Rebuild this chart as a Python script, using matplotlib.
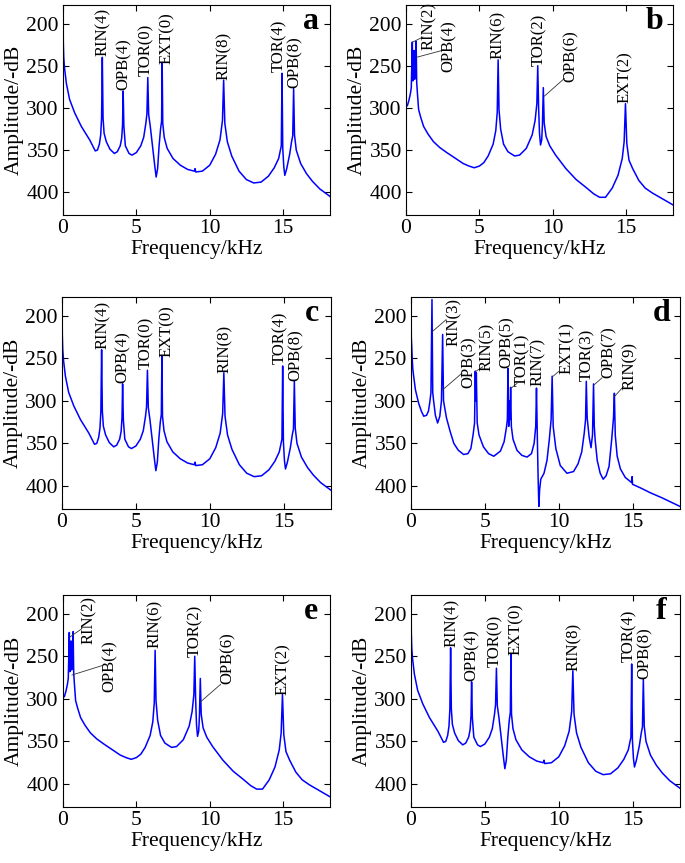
import matplotlib.pyplot as plt

plt.rcParams['font.family'] = ['Liberation Serif', 'DejaVu Serif']

# spectrum shown in panels a, c and f (frequency kHz, amplitude -dB)
freq_a = [0.0, 0.02, 0.05, 0.1, 0.23, 0.45, 0.8, 1.25, 1.82, 2.2, 2.35, 2.48, 2.57, 2.63, 2.68,
          2.73, 2.8, 2.95, 3.2, 3.5, 3.7, 3.9, 4.0, 4.06, 4.1, 4.15, 4.25, 4.5, 4.7, 5.0, 5.3,
          5.5, 5.65, 5.72, 5.78, 5.84, 5.95, 6.1, 6.25, 6.35, 6.45, 6.55, 6.65, 6.72, 6.76, 6.8,
          6.9, 7.1, 7.5, 8.0, 8.5, 8.95, 9.0, 9.05, 9.5, 10.0, 10.4, 10.7, 10.87, 10.95, 11.03,
          11.2, 11.5, 12.0, 12.5, 13.0, 13.5, 14.0, 14.4, 14.7, 14.82, 14.88, 14.93, 14.98, 15.05,
          15.12, 15.25, 15.45, 15.58, 15.66, 15.72, 15.78, 15.9, 16.2, 16.6, 17.0, 17.5, 18.2]
amp_a = [170, 222, 240, 252, 271, 290, 306, 322, 338, 351, 350, 343, 332, 312, 240,
         312, 330, 340, 349, 354, 352, 345, 336, 320, 280, 322, 345, 354, 356, 353, 345,
         335, 318, 307, 264, 308, 322, 345, 368, 382, 372, 345, 325, 316, 247, 318,
         335, 348, 360, 368, 373, 375, 372, 376, 375, 368, 355, 338, 315, 267, 318,
         340, 357, 375, 385, 389, 388, 381, 371, 360, 350, 345, 259, 348, 370,
         380, 372, 355, 340, 333, 277, 332, 350, 366, 378, 387, 396, 405]

# spectrum shown in panels b and e
freq_b = [0.0, 0.1, 0.2, 0.3, 0.36, 0.43, 0.47, 0.51, 0.55, 0.59, 0.63, 0.69, 0.73, 0.78, 0.86,
          1.0, 1.2, 1.5, 1.87, 2.3, 2.78, 3.3, 3.9, 4.3, 4.65, 5.0, 5.3, 5.6, 5.94, 6.12, 6.22,
          6.28, 6.34, 6.45, 6.65, 6.95, 7.4, 7.74, 8.2, 8.6, 8.8, 8.92, 8.98, 9.04, 9.1, 9.17,
          9.25, 9.3, 9.36, 9.42, 9.55, 9.8, 10.2, 10.9, 11.6, 12.25, 12.8, 13.2, 13.6, 14.06,
          14.45, 14.74, 14.87, 14.96, 15.05, 15.2, 15.45, 15.87, 16.3, 16.8, 17.5, 18.2]
amp_b = [299, 297, 291, 283, 276, 222, 268, 258, 232, 266, 254, 221, 270, 283, 302,
         311, 322, 331, 340, 347, 353, 359, 366, 369, 371, 369, 365, 357, 343, 327, 305,
         243, 302, 325, 343, 352, 357, 356, 348, 332, 315, 295, 250, 300, 330, 344,
         338, 320, 276, 318, 334, 345, 356, 372, 385, 394, 402, 406, 406, 395,
         380, 360, 340, 295, 342, 362, 372, 386, 395, 401, 408, 415]

# spectrum shown in panel d
freq_d = [0.0, 0.02, 0.05, 0.08, 0.12, 0.18, 0.3, 0.52, 0.7, 0.86, 1.05, 1.18, 1.27, 1.35, 1.42,
          1.47, 1.53, 1.65, 1.8, 1.95, 2.06, 2.14, 2.2, 2.4, 2.65, 2.9, 3.2, 3.56, 3.85, 4.05,
          4.2, 4.3, 4.35, 4.38, 4.42, 4.48, 4.6, 4.9, 5.25, 5.6, 6.05, 6.3, 6.45, 6.52, 6.56,
          6.61, 6.66, 6.7, 6.74, 6.79, 6.9, 7.17, 7.5, 7.85, 8.15, 8.33, 8.44, 8.49, 8.55, 8.6,
          8.65, 8.7, 8.78, 9.0, 9.2, 9.36, 9.48, 9.55, 9.62, 9.8, 10.1, 10.55, 11.0, 11.3, 11.55,
          11.72, 11.81, 11.86, 11.92, 12.05, 12.18, 12.28, 12.35, 12.4, 12.46, 12.6, 12.8, 13.0,
          13.2, 13.4, 13.58, 13.7, 13.76, 13.82, 13.95, 14.17, 14.5, 14.93, 14.96, 14.99, 15.5,
          16.2, 17.0, 18.2]
amp_d = [170, 225, 236, 250, 262, 271, 287, 303, 312, 318, 317, 312, 302, 290, 181,
         290, 300, 317, 326, 318, 300, 222, 300, 320, 336, 350, 358, 363, 362, 356,
         340, 326, 265, 300, 267, 326, 340, 354, 362, 365, 359, 348, 332, 322, 262,
         330, 300, 322, 284, 330, 345, 358, 364, 366, 362, 350, 330, 285, 345, 390,
         424, 405, 392, 385, 370, 345, 322, 271, 330, 356, 376, 385, 383, 374, 360,
         338, 322, 277, 320, 342, 355, 340, 280, 330, 346, 370, 385, 392,
         388, 377, 345, 320, 291, 340, 365, 380, 390, 396, 389, 398, 402,
         408, 414, 424]

# peak labels: text, x centre, y where text starts
labels_a = ['RIN(4)', 'OPB(4)', 'TOR(0)', 'EXT(0)', 'RIN(8)', 'TOR(4)', 'OPB(8)']
lab_x_a = [2.75, 4.14, 5.66, 7.08, 11.0, 14.75, 15.8]
lab_y_a = [239, 279, 262, 248, 267, 257, 277]
leaders_a = []

labels_b = ['RIN(2)', 'OPB(4)', 'RIN(6)', 'TOR(2)', 'OPB(6)', 'EXT(2)']
lab_x_b = [1.53, 2.89, 6.28, 9.06, 11.25, 14.93]
lab_y_b = [231, 258, 242, 250, 269, 294]
leaders_b = [(0.45, 222, 1.15, 216), (0.72, 240, 2.55, 231.5), (9.44, 286, 10.8, 265)]

labels_e = labels_b
lab_x_e = [1.74, 3.22, 6.28, 9.0, 11.2, 15.0]
lab_y_e = [236, 292, 240, 251, 283, 296]
leaders_e = [(0.5, 227, 1.29, 217.5), (0.61, 272, 2.65, 261), (9.34, 304, 10.74, 283)]

labels_d = ['RIN(3)', 'OPB(3)', 'RIN(5)', 'OPB(5)', 'TOR(1)', 'RIN(7)', 'EXT(1)', 'TOR(3)',
            'OPB(7)', 'RIN(9)']
lab_x_d = [2.88, 3.9, 5.14, 6.5, 7.5, 8.6, 10.55, 11.9, 13.37, 14.8]
lab_y_d = [236, 285, 265, 261, 283, 283, 269, 277, 273, 287]
leaders_d = [(1.45, 218.5, 2.37, 204.7), (2.14, 287, 3.45, 267.5), (4.37, 265.5, 4.85, 260),
             (6.78, 285, 7.17, 279.5), (9.55, 272, 9.99, 265.5), (12.4, 281, 12.92, 273),
             (13.76, 295, 14.38, 283)]


def draw_panel(ax, freq, amp, labels, lab_x, lab_y, leaders, letter):
    ax.plot(freq, amp, color='#0000ff', lw=1.1)
    ax.set_xlim(0, 18.2)
    ax.set_ylim(427, 178)
    ax.set_xticks([0, 5, 10, 15])
    ax.set_yticks([200, 250, 300, 350, 400])
    ax.tick_params(direction='in', top=True, right=True, labelsize=15.5, length=4, pad=3)
    ax.set_xlabel('Frequency/kHz', fontsize=15.5, labelpad=1)
    ax.set_ylabel('Amplitude/-dB', fontsize=15.5, labelpad=2)
    for t, x, y in zip(labels, lab_x, lab_y):
        ax.text(x, y, t, rotation=90, ha='center', va='bottom', fontsize=12)
    for x0, y0, x1, y1 in leaders:
        ax.plot([x0, x1], [y0, y1], color='#333333', lw=0.6)
    ax.text(0.93, 0.92, letter, transform=ax.transAxes, fontsize=23,
            fontweight='bold', ha='center', va='center')


W, H = 685, 863
fig = plt.figure(figsize=(W / 100, H / 100), dpi=100)

# axes boxes in pixels: left, top, right, bottom
boxes = {
    'a': (63, 5, 330, 215), 'b': (406, 5, 673, 215),
    'c': (62, 297, 331, 509), 'd': (411, 297, 680, 509),
    'e': (63, 595, 330, 807), 'f': (411, 595, 680, 807),
}
axs = {}
for k, (l, t, r, b) in boxes.items():
    axs[k] = fig.add_axes([l / W, 1 - b / H, (r - l) / W, (b - t) / H])

draw_panel(axs['a'], freq_a, amp_a, labels_a, lab_x_a, lab_y_a, leaders_a, 'a')
draw_panel(axs['b'], freq_b, amp_b, labels_b, lab_x_b, lab_y_b, leaders_b, 'b')
draw_panel(axs['c'], freq_a, amp_a, labels_a, lab_x_a, lab_y_a, leaders_a, 'c')
draw_panel(axs['d'], freq_d, amp_d, labels_d, lab_x_d, lab_y_d, leaders_d, 'd')
draw_panel(axs['e'], freq_b, amp_b, labels_e, lab_x_e, lab_y_e, leaders_e, 'e')
draw_panel(axs['f'], freq_a, amp_a, labels_a, lab_x_a, lab_y_a, leaders_a, 'f')

fig.savefig('out.png', dpi=100)
